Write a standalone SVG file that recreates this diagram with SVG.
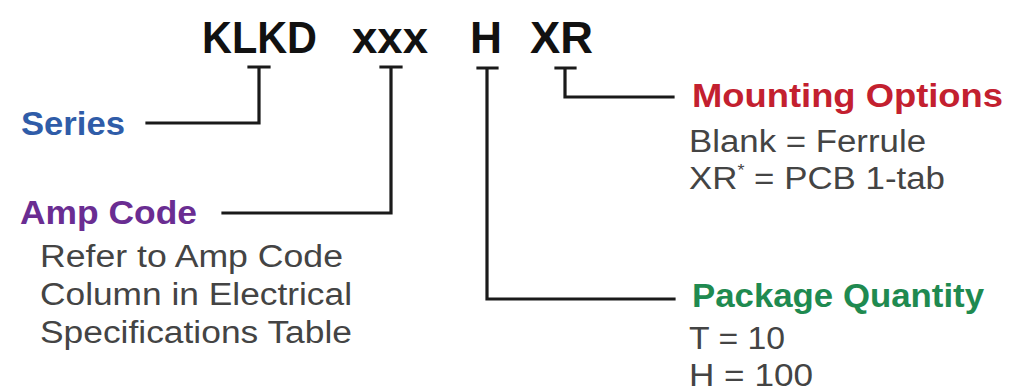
<svg xmlns="http://www.w3.org/2000/svg" width="1019" height="391" viewBox="0 0 1019 391">
<style>
.t{font-family:"Liberation Sans",Arial,sans-serif;font-weight:bold;font-size:45px;fill:#111}
.h{font-family:"Liberation Sans",Arial,sans-serif;font-weight:bold;font-size:34px}
.b{font-family:"Liberation Sans",Arial,sans-serif;font-size:31px;fill:#444}
.c{fill:none;stroke:#1a1a1a;stroke-width:3.2;stroke-linecap:square;stroke-linejoin:miter}
</style>
<rect width="1019" height="391" fill="#ffffff"/>
<g id="title">
<text class="t" x="202" y="53" textLength="115" lengthAdjust="spacingAndGlyphs">KLKD</text>
<text class="t" x="352" y="53" textLength="76" lengthAdjust="spacingAndGlyphs">xxx</text>
<text class="t" x="470" y="53" textLength="32" lengthAdjust="spacingAndGlyphs">H</text>
<text class="t" x="530" y="53" textLength="63" lengthAdjust="spacingAndGlyphs">XR</text>
</g>
<g id="connectors">
<path class="c" d="M249 67 H269 M259 67 V123 H147"/>
<path class="c" d="M381 67 H401 M391 67 V213 H223"/>
<path class="c" d="M478 68 H497 M487 68 V299 H674"/>
<path class="c" d="M556 68 H575 M565 68 V97 H673"/>
</g>
<g id="series">
<text class="h" x="21" y="135" fill="#2f5ca8" textLength="104" lengthAdjust="spacingAndGlyphs">Series</text>
</g>
<g id="amp-code">
<text class="h" x="20" y="224" fill="#6a2d92" textLength="177" lengthAdjust="spacingAndGlyphs">Amp Code</text>
<text class="b" x="40" y="267" textLength="303" lengthAdjust="spacingAndGlyphs">Refer to Amp Code</text>
<text class="b" x="40" y="305" textLength="312" lengthAdjust="spacingAndGlyphs">Column in Electrical</text>
<text class="b" x="40" y="343" textLength="312" lengthAdjust="spacingAndGlyphs">Specifications Table</text>
</g>
<g id="mounting-options">
<text class="h" x="692" y="107" fill="#c3202f" textLength="311" lengthAdjust="spacingAndGlyphs">Mounting Options</text>
<text class="b" x="689" y="152" textLength="237" lengthAdjust="spacingAndGlyphs">Blank = Ferrule</text>
<text class="b" x="689" y="189" textLength="256" lengthAdjust="spacingAndGlyphs">XR<tspan font-size="16" dy="-13">*</tspan><tspan dy="13"> = PCB 1-tab</tspan></text>
</g>
<g id="package-quantity">
<text class="h" x="692" y="307" fill="#1f8a50" textLength="292" lengthAdjust="spacingAndGlyphs">Package Quantity</text>
<text class="b" x="689" y="349" textLength="96" lengthAdjust="spacingAndGlyphs">T = 10</text>
<text class="b" x="689" y="386" textLength="124" lengthAdjust="spacingAndGlyphs">H = 100</text>
</g>
</svg>
